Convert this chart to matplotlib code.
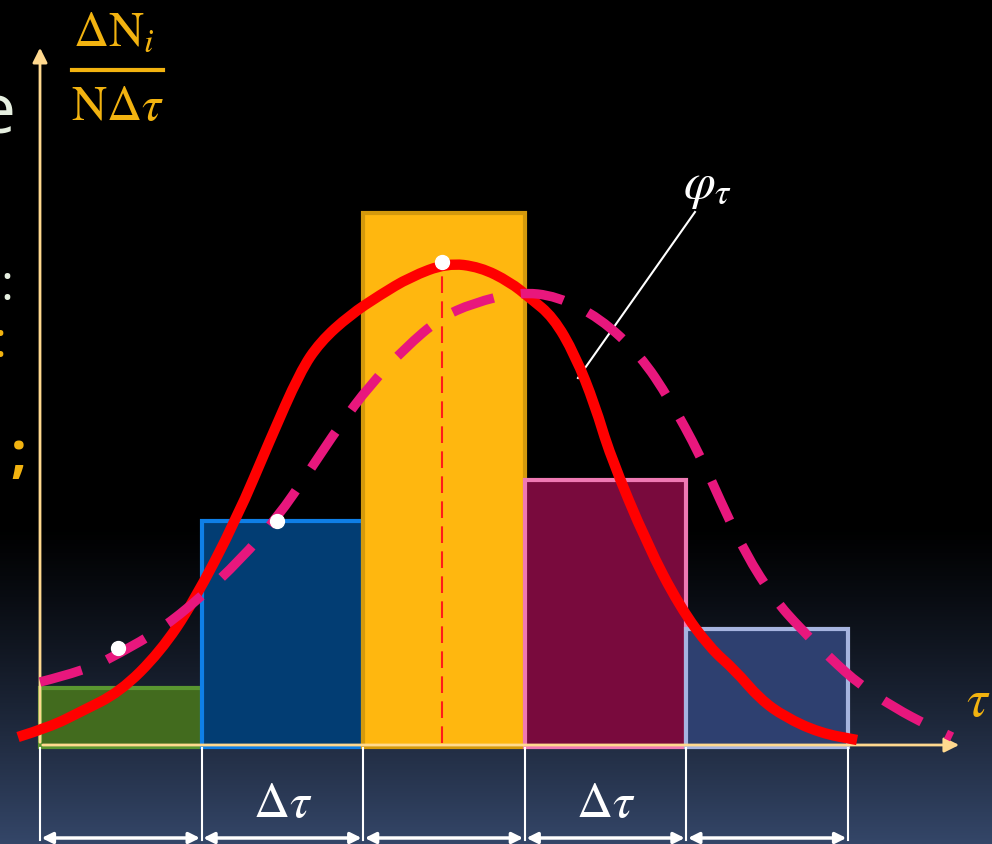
import numpy as np
import matplotlib
matplotlib.use("Agg")
import matplotlib.pyplot as plt
from matplotlib.path import Path
from matplotlib.patches import PathPatch

plt.rcParams['mathtext.fontset'] = 'stix'

# histogram: 5 bins of width dtau, heights dN_i/(N dtau)
bin_edges = [0, 1, 2, 3, 4, 5]
heights = [0.55, 2.22, 5.30, 2.63, 1.14]
bar_faces = ['#426b1e', '#023d73', '#ffb70f', '#790a3d', '#2e4070']
bar_edges = ['#5a9630', '#0f7fe6', '#d4990c', '#ef79b3', '#a6b4e0']

# red solid curve phi_tau
red_x = [-0.136, 0.062, 0.248, 0.495, 0.743, 0.947, 1.219, 1.423, 1.609, 1.733,
         1.918, 2.104, 2.290, 2.519, 2.723, 2.908, 3.032, 3.175, 3.311, 3.434,
         3.527, 3.756, 3.960, 4.146, 4.300, 4.455, 4.610, 4.827, 5.056]
red_y = [0.06, 0.16, 0.31, 0.51, 0.91, 1.40, 2.25, 3.03, 3.71, 4.01,
         4.28, 4.48, 4.66, 4.80, 4.76, 4.61, 4.45, 4.26, 3.88, 3.38,
         2.88, 1.99, 1.36, 0.95, 0.73, 0.44, 0.26, 0.10, 0.03]

# pink dashed curve
pink_x = [0.0, 0.291, 0.495, 0.743, 0.990, 1.238, 1.467, 1.671, 1.856, 2.042,
          2.259, 2.475, 2.680, 2.958, 3.199, 3.465, 3.713, 3.899, 4.084, 4.208,
          4.363, 4.548, 4.703, 4.889, 5.074, 5.291, 5.489, 5.644]
pink_y = [0.61, 0.73, 0.90, 1.13, 1.45, 1.83, 2.25, 2.73, 3.18, 3.58,
          3.95, 4.25, 4.40, 4.51, 4.47, 4.25, 3.88, 3.43, 2.88, 2.43,
          1.90, 1.43, 1.15, 0.85, 0.58, 0.35, 0.18, 0.06]

# white points
dot_x = [0.483, 1.467, 2.488]
dot_y = [0.95, 2.22, 4.81]

orange = '#f2b310'
axis_col = '#ffd98f'


def smooth_path(xs, ys):
    # quadratic bezier through midpoints, data points act as control points
    pts = np.column_stack([xs, ys])
    verts = [pts[0]]
    codes = [Path.MOVETO]
    for i in range(1, len(pts) - 1):
        verts += [pts[i], (pts[i] + pts[i + 1]) / 2]
        codes += [Path.CURVE3, Path.CURVE3]
    verts.append(pts[-1])
    codes.append(Path.LINETO)
    return Path(verts, codes)


fig = plt.figure(figsize=(9.92, 8.44), dpi=100)
ax = fig.add_axes([0, 0, 1, 1])
ax.set_xlim(-40 / 161.6, 952 / 161.6)
ax.set_ylim(-1.01, 7.43)
ax.axis('off')

# background: black fading into dark blue at the bottom
rows = np.linspace(0, 1, 400)
t = np.clip((rows - 0.62) / 0.38, 0, 1) ** 1.2
bottom_col = np.array([52, 70, 104]) / 255
grad = t[:, None] * bottom_col[None, :]
ax.imshow(grad[:, None, :], extent=[-0.2475, 5.891, -1.01, 7.43], aspect='auto', zorder=0)

# bars
for i in range(5):
    ax.bar(bin_edges[i], heights[i] + 0.04, bottom=-0.04, width=1, align='edge',
           color=bar_faces[i], edgecolor=bar_edges[i], linewidth=3, zorder=2)

# axes with arrows
ax.annotate('', xy=(0, 6.98), xytext=(0, -0.02),
            arrowprops=dict(arrowstyle='-|>', color=axis_col, lw=2, mutation_scale=22), zorder=3)
ax.annotate('', xy=(5.705, -0.02), xytext=(0, -0.02),
            arrowprops=dict(arrowstyle='-|>', color=axis_col, lw=2, mutation_scale=22), zorder=3)

# vertical dashed line under the peak
ax.plot([dot_x[2], dot_x[2]], [0, dot_y[2]], color='#ff1a1a', lw=1.5, dashes=(8, 4), zorder=3)

ax.add_patch(PathPatch(smooth_path(red_x, red_y), fill=False, edgecolor='#ff0000',
                       lw=7.5, capstyle='butt', zorder=4))
pink = PathPatch(smooth_path(pink_x, pink_y), fill=False, edgecolor='#e8177d',
                 lw=6.8, capstyle='butt', zorder=5)
pink.set_linestyle((0, (4.6, 2.9)))
ax.add_patch(pink)
ax.plot(dot_x, dot_y, 'o', color='white', markersize=10, zorder=6)

# bin width markers below the axis
for e in bin_edges:
    ax.plot([e, e], [-0.05, -0.97], color='white', lw=1.5, zorder=3)
for i in range(5):
    ax.annotate('', xy=(bin_edges[i + 1] - 0.01, -0.95), xytext=(bin_edges[i] + 0.01, -0.95),
                arrowprops=dict(arrowstyle='<|-|>', color='white', lw=2.5, mutation_scale=16,
                                shrinkA=0, shrinkB=0), zorder=3)
for c in [1.5, 3.5]:
    ax.text(c, -0.60, r'$\Delta\tau$', color='white', fontsize=36, ha='center', va='center')

# y label as a fraction
ax.text(0.46, 6.98, r'$\Delta\mathrm{N}_i$', color=orange, fontsize=35, ha='center', va='baseline')
ax.plot([0.198, 0.761], [6.73, 6.73], color=orange, lw=3)
ax.text(0.48, 6.23, r'$\mathrm{N}\Delta\tau$', color=orange, fontsize=35, ha='center', va='baseline')

# tau label
ax.text(5.73, 0.27, r'$\tau$', color=orange, fontsize=38, ha='left', va='baseline')

# phi label with leader
ax.text(3.98, 5.45, r'$\varphi_\tau$', color='white', fontsize=37, ha='left', va='baseline')
ax.plot([4.053, 3.329], [5.31, 3.65], color='white', lw=1.5)

# clipped slide text on the left edge
ax.text(-0.152, 6.10, 'e', color='#e6efe0', fontsize=50, ha='right', va='baseline',
        family='Open Sans')
ax.text(-0.245, 4.43, ':', color='#e6efe0', fontsize=36, ha='left', va='baseline',
        family='Open Sans')
ax.text(-0.29, 3.86, ':', color=orange, fontsize=36, ha='left', va='baseline',
        family='Open Sans')
ax.text(-0.185, 2.72, ';', color=orange, fontsize=40, ha='left', va='baseline',
        family='Open Sans', fontweight='bold')

fig.savefig('out.png', dpi=100, facecolor='black')
